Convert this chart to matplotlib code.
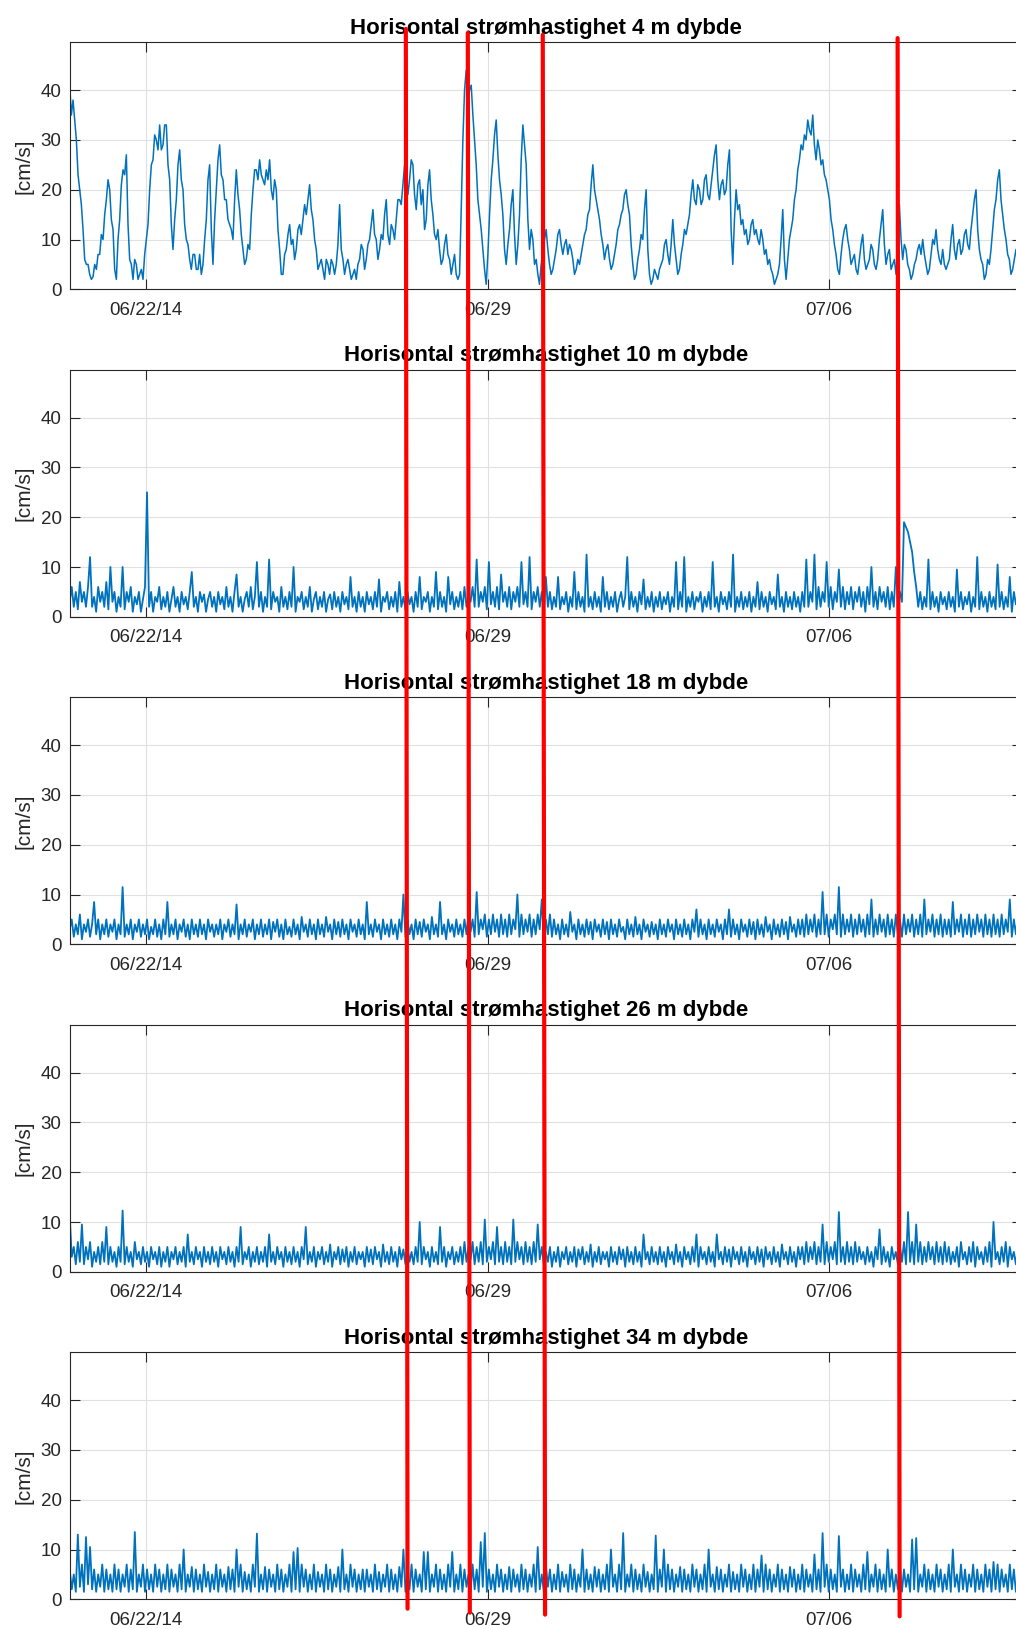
import matplotlib
matplotlib.use('Agg')
import matplotlib.pyplot as plt
import matplotlib.dates as mdates
import matplotlib.transforms as mtransforms
from matplotlib.patches import ConnectionPatch
from datetime import datetime, timedelta

plt.rcParams['font.family'] = ['Liberation Sans', 'DejaVu Sans']

# ---------------- data ----------------
depths = [4, 10, 18, 26, 34]
titles = ['Horisontal strømhastighet %d m dybde' % d for d in depths]
ylabel = '[cm/s]'

start_time = datetime(2014, 6, 20, 10, 40)
end_time = datetime(2014, 7, 9, 22, 40)
step_4m_hours = 0.81875
step_deep_hours = 1.0

tick_dates = [datetime(2014, 6, 22), datetime(2014, 6, 29), datetime(2014, 7, 6)]
tick_labels = ['06/22/14', '06/29', '07/06']
ytick_values = [0, 10, 20, 30, 40]
ymax = 49.6

speed_4m = [
    41, 35, 38, 34, 30, 23, 20, 17, 12, 6, 5, 5, 3, 2, 2.5, 5, 4, 7, 7, 11, 10, 15, 18, 22, 20, 14, 12, 4, 2, 10, 14, 21, 24, 23, 27, 13, 6, 5, 2, 6,
    5, 2, 3, 4, 2, 7, 10, 13, 20, 25, 26, 31, 30, 28, 33, 28, 29, 33, 33, 25, 22, 13, 8, 14, 18, 25, 28, 22, 20, 13, 10, 9, 6, 4, 7, 7, 4, 4, 7, 3,
    5, 10, 14, 22, 25, 12, 5, 14, 20, 26, 29, 23, 22, 18, 18, 14, 13, 12, 10, 18, 24, 19, 16, 11, 8, 5, 6, 9, 8, 15, 20, 24, 24, 22, 26, 23, 22, 21, 24, 22,
    26, 20, 18, 22, 20, 12, 8, 3, 3, 7, 8, 11, 13, 9, 10, 6, 8, 12, 13, 11, 14, 17, 15, 18, 21, 16, 14, 10, 8, 4, 5, 6, 4, 2, 6, 5, 3, 6, 5, 3,
    5, 9, 17, 8, 6, 3, 5, 6, 4, 2, 3, 4, 2, 5, 6, 9, 8, 4, 6, 9, 10, 13, 16, 11, 10, 6, 8, 11, 10, 15, 18, 11, 9, 13, 12, 10, 14, 18, 18, 17,
    21, 25, 24, 19, 22, 26, 25, 19, 16, 21, 22, 17, 20, 12, 14, 21, 24, 18, 15, 11, 10, 12, 8, 5, 6, 9, 11, 7, 6, 3, 5, 7, 3, 2, 3, 16, 30, 40, 44, 37,
    40, 41, 35, 30, 25, 18, 15, 12, 8, 4, 1, 7, 15, 22, 26, 31, 34, 27,
    22, 19, 15, 8, 5, 9, 12, 17, 20, 11, 5, 9, 15, 26, 33, 29, 25, 14, 8, 12, 10, 5, 6, 3, 1, 5, 8, 10, 12, 8, 5, 3, 4, 6, 8, 11, 12, 9, 7, 9,
    10, 7, 9, 8, 6, 3, 4, 6, 5, 7, 9, 11, 12, 15, 16, 21, 25, 20, 18, 16, 14, 11, 9, 6, 8, 9, 6, 4, 5, 7, 9, 12, 13, 15, 16, 19, 20, 17, 15, 9,
    5, 2, 3, 6, 8, 11, 10, 16, 20, 8, 3, 1, 2, 4, 3, 2, 4, 5, 6, 9, 10, 7, 5, 9, 14, 9, 6, 3, 4, 7, 9, 12, 11, 13, 15, 19, 22, 18, 17, 21,
    20, 17, 18, 22, 23, 19, 18, 21, 24, 27, 29, 22, 18, 21, 22, 19, 20, 25, 28, 12, 5, 14, 20, 16, 17, 13, 14, 11, 12, 9, 10, 13, 14, 11, 12, 10, 9, 12, 10, 7,
    8, 5, 6, 4, 3, 1, 2, 3, 5, 10, 16, 6, 2, 6, 10, 12, 14, 18, 20, 24, 26, 29, 28, 31, 30, 34, 32, 31, 35, 29, 26, 30, 28, 25, 26, 23, 22, 20, 18, 14,
    12, 9, 7, 4, 3, 7, 10, 12, 13, 10, 8, 5, 6, 7, 4, 3, 6, 9, 11, 6, 4, 5, 6, 9, 8, 5, 4, 6, 10, 13, 16, 9, 5, 7, 8, 4, 5, 6, 3, 8,
    17, 10, 6, 9, 8, 5, 4, 2, 3, 5, 6, 8, 9, 7, 10, 7, 5, 3, 4, 7, 10, 9, 12, 8, 6, 5, 8, 5, 4, 5, 6, 10, 13, 8, 6, 9, 10, 7, 8, 11,
    12, 9, 8, 12, 15, 18, 20, 12, 8, 6, 5, 2, 3, 6, 5, 8, 12, 16, 18, 22, 24, 18, 15, 12, 10, 7, 6, 3, 4, 6, 8, 5, 6,
]

speed_10m = [
    3, 6, 2, 5, 1.5, 7, 3, 5, 2, 6, 12, 2, 4, 1, 6, 3, 5, 2, 7, 1.5, 10, 3, 5, 1,
    4, 2, 10, 1.5, 5, 3, 6, 1, 4, 2.5, 5, 1, 3.5, 6, 25, 2, 5, 1, 4, 3, 6, 1.5, 4, 2,
    5, 1, 3.5, 6, 2, 4, 1, 5, 2.5, 4, 1.5, 5, 9, 2, 4, 1, 5, 3, 4.5, 1, 3.5, 5, 2, 4,
    1, 5, 2.5, 4, 1.5, 6, 2, 4, 1, 5, 8.5, 2, 4, 1, 3.5, 5, 2, 6, 1.5, 4, 11, 2, 5, 1,
    4, 2, 11.5, 1.5, 5, 3, 4, 1, 6, 2, 4, 1.5, 5, 2, 10, 1, 4, 3, 5, 1.5, 4, 2, 6, 1,
    3.5, 5, 1.5, 4, 2, 5, 1, 3.5, 4.5, 1.5, 5, 2, 4, 1, 5, 2.5, 4, 1.5, 8, 2, 4, 1, 5, 2,
    4, 1, 5, 2.5, 4, 1.5, 5, 2, 7.5, 1, 4, 3, 5, 1.5, 4, 2, 5, 1, 7, 2, 4, 1.5, 5, 2.5,
    4, 1, 5, 2, 8, 1.5, 4, 3, 5, 1, 4, 2, 9, 1.5, 5, 2, 4, 1, 8, 2.5, 5, 1.5, 4, 2,
    5, 1.5, 6, 2, 4, 3, 6, 2, 11.5, 2, 5, 3, 6, 1.5, 11, 2.5, 5, 2, 6, 1.5, 8.5, 3, 5, 2,
    6, 1.5, 5, 3, 6, 2, 11, 2.5, 5, 2, 12, 1.5, 5, 3, 6, 2, 5, 1, 8, 2, 5, 1.5, 4, 2,
    8, 1.5, 4, 2.5, 5, 1, 4, 2, 9, 1.5, 5, 2, 4, 1, 12.5, 2, 4, 1.5, 5, 2, 4, 1, 8, 2,
    5, 1.5, 4, 2, 5, 1, 3.5, 5, 2, 4, 12, 1.5, 5, 2, 4, 1, 5, 2.5, 7.5, 1.5, 4, 2, 5, 1,
    4, 2, 5, 1.5, 4, 2.5, 5, 1, 4, 2, 11, 1.5, 5, 2, 12, 1, 4, 2, 5, 1.5, 4, 3, 5, 1,
    4, 2, 5, 1.5, 11, 2, 4, 1, 5, 2.5, 4, 1.5, 5, 2, 12.5, 1, 4, 2, 5, 1.5, 4, 2, 5, 1,
    4, 2, 7, 1.5, 5, 2, 4, 1, 5, 2.5, 4, 1.5, 8.5, 2, 4, 1, 5, 2, 4, 1.5, 5, 2, 4, 1,
    5, 2, 11.5, 2, 5, 3, 12.5, 1.5, 6, 2, 5, 3, 11, 2, 6, 1.5, 5, 3, 9.5, 2, 6, 1.5, 5, 2.5,
    6, 1.5, 5, 3, 6, 2, 5, 1, 6, 2.5, 10, 2, 5, 1.5, 6, 3, 5, 2, 6, 1.5, 5, 2, 10, 3,
    5, 3, 19, 18, 17, 15, 13, 9, 6, 2, 5, 1.5, 4, 2, 11.5, 1.5, 5, 2, 4, 1, 5, 2.5, 4, 1.5,
    5, 2, 4, 1, 9.5, 2, 5, 1.5, 4, 2.5, 5, 1, 4, 2, 12, 1.5, 5, 2, 4, 1, 5, 2, 4, 1.5,
    10.5, 2, 5, 1.5, 4, 2, 8, 1, 5, 2.5, 4, 1.5, 5, 2, 4, 1, 5, 2, 4, 1.5, 5, 2, 4, 1,
]

speed_18m = [
    3, 5, 1.5, 4, 2, 6, 1, 4, 2.5, 5, 1.5, 4, 8.5, 2, 5, 1, 4, 2, 5, 1.5, 4, 2.5, 5, 1,
    4, 2, 11.5, 1.5, 4, 2, 5, 1, 4, 2.5, 5, 1.5, 4, 2, 5, 1, 3.5, 2, 5, 1.5, 4, 1, 5, 2,
    8.5, 1.5, 4, 2, 5, 1, 4, 2.5, 5, 1.5, 4, 1, 5, 2, 4, 1.5, 5, 2, 4, 1, 5, 2.5, 4, 1.5,
    4, 2, 5, 1, 4, 2.5, 5, 1.5, 4, 2, 8, 1, 4, 2, 5, 1.5, 4, 2.5, 5, 1, 4, 2, 5, 1.5,
    4, 2, 5, 1, 4.5, 2.5, 5, 1.5, 4, 1, 5, 2, 3.5, 1.5, 5, 2, 4, 1, 5.5, 2.5, 4, 1.5, 5, 2,
    4, 1, 5, 2, 4, 1.5, 5.5, 2.5, 4, 1, 5, 2, 4.5, 1.5, 5, 2, 4, 1, 5, 2.5, 4, 1.5, 5, 2,
    4, 1, 8.5, 2, 4, 1.5, 5, 2.5, 4, 1, 5, 2, 4, 1.5, 5, 2, 4, 1, 5, 2.5, 10, 1.5, 5, 2,
    4, 1, 5, 2, 4.5, 1.5, 5, 2.5, 4, 1, 5.5, 2, 4, 1.5, 8.5, 2, 4, 1, 5, 2.5, 4, 1.5, 5, 2,
    4, 1.5, 5, 2, 6, 2.5, 5, 1.5, 10.5, 2, 5, 3, 6, 1.5, 5, 2, 6, 2.5, 5, 1.5, 6, 2, 5, 1.5,
    6, 2, 5, 3, 10, 1.5, 6, 2, 5, 2.5, 6, 1.5, 5, 2, 6, 3, 9, 1.5, 5, 2, 6, 1.5, 5, 2,
    4, 1, 5, 2, 4, 1.5, 6.5, 2.5, 4, 1, 5, 2, 4, 1.5, 5, 2, 4.5, 1, 5, 2.5, 4, 1.5, 5, 2,
    4.5, 1, 5, 2, 4, 1.5, 5, 2.5, 3.5, 1, 5, 2, 4, 1.5, 5.5, 2, 4, 1, 5, 2.5, 4, 1.5, 4.5, 2,
    4, 1, 5, 2, 4, 1.5, 5, 2.5, 4, 1, 5, 2, 4, 1.5, 5, 2, 4, 1, 5, 2.5, 7, 1.5, 5, 2,
    4, 1, 5, 2, 4, 1.5, 5, 2.5, 4, 1, 5, 2, 7, 1.5, 5, 2, 4, 1, 5, 2.5, 4, 1.5, 5, 2,
    4.5, 1, 5, 2, 4, 1.5, 5.5, 2.5, 4, 1, 5, 2, 4, 1.5, 5, 2, 4.5, 1, 5.5, 2.5, 4, 1.5, 5, 2,
    5, 1.5, 6, 2, 5, 2.5, 6, 1.5, 5, 2, 10.5, 2, 6, 1.5, 5, 3, 6, 2, 11.5, 1.5, 6, 2, 5, 2.5,
    6, 1.5, 5, 2, 6, 2.5, 5, 1.5, 6, 2, 9, 1.5, 5, 2, 6, 2.5, 5, 1.5, 6, 2, 5, 1.5, 6, 2,
    5, 1.5, 6, 2, 5, 2.5, 6, 1.5, 5, 2, 6, 1.5, 9, 2, 5, 2.5, 6, 1.5, 5, 2, 6, 1.5, 5, 2,
    5, 1.5, 8.5, 2, 5, 2.5, 6, 1.5, 5, 2, 6, 1.5, 5, 2, 6, 2.5, 5, 1.5, 6, 2, 5, 1.5, 6, 2,
    5, 1.5, 6, 2, 5, 2.5, 9, 1.5, 5, 2, 6, 1.5, 5, 2, 6, 2.5, 5, 1.5, 6, 2, 5, 1.5, 6, 2,
]

speed_26m = [
    11.5, 3, 5, 1.5, 6, 2, 9.5, 1.5, 5, 2.5, 6, 1, 4, 2, 5, 1.5, 6, 2, 9, 1.5, 5, 2, 4, 1,
    5, 2, 12.3, 1.5, 5, 2, 4, 1, 6, 2.5, 4, 1.5, 5, 2, 4, 1, 5, 2.5, 4, 1.5, 5, 1, 4, 2,
    5, 1, 4, 2.5, 5, 1.5, 4, 2, 5, 1, 7.5, 2, 4, 1.5, 5, 2.5, 4, 1, 5, 2, 4, 1.5, 5, 2,
    4, 1, 5, 2.5, 4, 1.5, 5, 2, 4, 1, 5, 2, 9, 1.5, 4, 2.5, 5, 1, 4, 2, 5, 1.5, 4, 2,
    5, 1, 7.5, 2, 4, 1.5, 5, 2.5, 4, 1, 5, 2, 4, 1.5, 5, 2, 4, 1, 5, 2.5, 9, 1.5, 4, 2,
    5, 1, 4, 2.5, 5, 1.5, 4, 2, 5.5, 1, 4, 2.5, 5, 1.5, 4.5, 2, 5, 1, 4, 2, 5, 1.5, 4, 2.5,
    4, 1, 5, 2, 4.5, 1.5, 5, 2.5, 4, 1, 5.5, 2, 4, 1.5, 5, 2, 4, 1, 5, 2.5, 4.5, 1.5, 5, 2,
    4, 1.5, 5, 2, 10, 1.5, 5, 2.5, 4, 1, 5, 2, 4, 1.5, 9, 2, 5, 1, 4, 2.5, 5, 1.5, 4, 2,
    5, 1.5, 6, 2, 5, 2.5, 6, 1.5, 5, 2, 6, 1.5, 10.5, 2, 5, 2.5, 6, 1.5, 9, 2, 5, 1.5, 6, 2,
    5, 1.5, 10.5, 2, 6, 2.5, 5, 1.5, 6, 2, 5, 1.5, 6, 2, 9.5, 2.5, 5, 1.5, 4, 2, 5, 1, 4, 2,
    5, 1, 4, 2.5, 5, 1.5, 4, 2, 5, 1, 4.5, 2.5, 5, 1.5, 4, 2, 5.5, 1, 4, 2, 5, 1.5, 4, 2.5,
    4, 1, 5, 2, 4, 1.5, 5, 2.5, 4.5, 1, 5, 2, 4, 1.5, 5, 2, 4, 1, 7.5, 2.5, 4, 1.5, 5, 2,
    4, 1.5, 5, 2, 4, 1, 5, 2.5, 4, 1.5, 5.5, 2, 4, 1, 5, 2.5, 4, 1.5, 5, 2, 7.5, 1, 5, 2.5,
    4, 1.5, 5, 2, 4, 1, 7.5, 2.5, 4, 1.5, 5, 2, 4.5, 1, 5, 2.5, 4, 1.5, 5, 2, 4, 1, 5, 2.5,
    4, 1.5, 5, 2, 4.5, 1, 5, 2.5, 4, 1.5, 5, 2, 4, 1, 5.5, 2.5, 4, 1.5, 5, 2, 4, 1, 5, 2.5,
    5, 1.5, 6, 2, 5, 2.5, 6, 1.5, 5, 2, 9.5, 1.5, 6, 2, 5, 2.5, 6, 1.5, 12, 2, 5, 1.5, 6, 2,
    5, 1.5, 6, 2, 5, 2.5, 4, 1.5, 5, 2, 4, 1, 5, 2.5, 8.5, 1.5, 5, 2, 4, 1, 5, 2.5, 4, 1.5,
    5, 2, 6, 1.5, 12, 2, 6, 1.5, 9.5, 2, 6, 1.5, 5, 2, 6, 2.5, 5, 1.5, 6, 2, 5, 1.5, 6, 2,
    5, 1.5, 4, 2, 5, 1, 6, 2.5, 4, 1.5, 5, 2, 6, 1, 5, 2.5, 4, 1.5, 5, 2, 6, 1, 10, 2.5,
    4, 1.5, 5, 2, 6, 1, 5, 2.5, 4, 1.5, 5, 2, 6, 1, 5, 2.5, 4, 1.5, 5, 2, 6, 1, 5, 2.5,
]

speed_34m = [
    6, 2, 5, 1.5, 13, 2.5, 7, 1.5, 12.5, 3, 10.5, 2, 6, 1.5, 5, 2.5, 7, 1.5, 6, 2, 5, 1.5, 7, 2,
    6, 1.5, 5, 2.5, 7, 1.5, 6, 2, 13.5, 1.5, 5, 2.5, 7, 1.5, 6, 2, 5, 1.5, 7, 2.5, 6, 1.5, 5, 2,
    7, 1.5, 6, 2.5, 5, 1.5, 7, 2, 10, 1.5, 5, 2.5, 6.5, 1.5, 6, 2, 5, 1.5, 7, 2.5, 5.5, 1.5, 5, 2,
    7, 1.5, 6, 2.5, 5, 1.5, 6.5, 2, 6, 1.5, 10, 2.5, 7, 1.5, 5.5, 2, 5, 1.5, 7, 2.5, 13.2, 1.5, 5, 2,
    6.5, 1.5, 6, 2.5, 5, 1.5, 7, 2, 6, 1.5, 5, 2.5, 7, 1.5, 9.5, 2, 10.3, 1.5, 7, 2.5, 6, 1.5, 5, 2,
    7, 1.5, 5.5, 2.5, 5, 1.5, 7, 2, 6, 1.5, 5, 2.5, 6.5, 1.5, 10, 2, 5, 1.5, 7, 2.5, 6, 1.5, 5, 2,
    6, 1.5, 6, 2.5, 5, 1.5, 7, 2, 5.5, 1.5, 5, 2.5, 7, 1.5, 6, 2, 5, 1.5, 6.5, 2.5, 10, 1.5, 5, 2,
    7, 1.5, 6, 2.5, 5, 1.5, 9.5, 2, 9.5, 1.5, 5, 2.5, 7, 1.5, 6, 2, 5, 1.5, 7, 2.5, 9.5, 1.5, 5, 2,
    7, 1.5, 6, 2.5, 5, 1.5, 7, 2, 6, 1.5, 11.5, 2.5, 13.3, 1.5, 6, 2, 5, 1.5, 7, 2.5, 6, 1.5, 5, 2,
    6.5, 1.5, 6, 2.5, 5, 1.5, 7, 2, 6, 1.5, 5, 2.5, 7, 1.5, 10.5, 2, 5, 1.5, 7, 2.5, 6, 1.5, 5, 2,
    7, 1.5, 5.5, 2.5, 5, 1.5, 7, 2, 6, 1.5, 5, 2.5, 10, 1.5, 6, 2, 5, 1.5, 6.5, 2.5, 6, 1.5, 5, 2,
    7, 1.5, 10, 2.5, 5, 1.5, 7, 2, 13.3, 1.5, 5, 2.5, 7, 1.5, 6, 2, 5, 1.5, 7, 2.5, 5.5, 1.5, 5, 2,
    12.8, 1.5, 6, 2.5, 10, 1.5, 7, 2, 6, 1.5, 5, 2.5, 6.5, 1.5, 6, 2, 5, 1.5, 7, 2.5, 6, 1.5, 5, 2,
    7, 1.5, 10, 2.5, 5, 1.5, 6.5, 2, 6, 1.5, 5, 2.5, 7, 1.5, 5.5, 2, 5, 1.5, 7, 2.5, 6, 1.5, 5, 2,
    7, 1.5, 6, 2.5, 8.8, 1.5, 7, 2, 6, 1.5, 5, 2.5, 7, 1.5, 6, 2, 5, 1.5, 6.5, 2.5, 6, 1.5, 5, 2,
    7, 1.5, 6, 2.5, 5, 1.5, 9, 2, 6, 1.5, 13.3, 2.5, 7, 1.5, 6, 2, 5, 1.5, 12.7, 2.5, 6, 1.5, 5, 2,
    7, 1.5, 6, 2.5, 5, 1.5, 7, 2, 9.5, 1.5, 5, 2.5, 7, 1.5, 6, 2, 5, 1.5, 10, 2.5, 6, 1.5, 5, 2,
    7, 1.5, 6, 2.5, 5, 1.5, 12, 2, 12.3, 1.5, 5, 2.5, 7, 1.5, 6, 2, 5, 1.5, 7, 2.5, 6, 1.5, 5, 2,
    7, 1.5, 10, 2.5, 5, 1.5, 7, 2, 6, 1.5, 5, 2.5, 7, 1.5, 6, 2, 5, 1.5, 7, 2.5, 6, 1.5, 7.5, 2,
    7, 1.5, 6, 2.5, 5, 1.5, 7, 2, 6, 1.5, 5, 2.5, 7, 1.5, 6, 2, 5, 1.5, 7, 2.5, 6, 1.5, 5, 2,
]

series = [speed_4m, speed_10m, speed_18m, speed_26m, speed_34m]
steps = [step_4m_hours, step_deep_hours, step_deep_hours, step_deep_hours, step_deep_hours]

# hand-drawn red marker lines: (date at top, date at bottom) in days after start
marker_top_days = [6.883, 8.152, 9.687, 16.953]
marker_bottom_days = [6.918, 8.193, 9.734, 16.994]
marker_top_y = [1.054, 1.038, 1.030, 1.017]         # axes fraction, first panel
marker_bottom_y = [-0.038, -0.054, -0.062, -0.069]  # axes fraction, last panel

# ---------------- figure ----------------
W, H = 1016, 1629
fig = plt.figure(figsize=(W / 100, H / 100), dpi=100)

left_px, right_px = 69.7, 1022.0
top0_px, ax_h_px, spacing_px = 42.3, 247.0, 327.5

line_color = '#0072BD'
text_color = '#262626'
line_widths = [1.1, 1.3, 1.3, 1.3, 1.3]

axes = []
for i, (vals, step, title) in enumerate(zip(series, steps, titles)):
    top_px = top0_px + i * spacing_px
    ax = fig.add_axes([left_px / W, 1 - (top_px + ax_h_px) / H,
                       (right_px - left_px) / W, ax_h_px / H])
    t = [start_time + timedelta(hours=step * k) for k in range(len(vals))]
    ax.plot(t, vals, color=line_color, lw=line_widths[i])
    ax.set_xlim(start_time, end_time)
    ax.set_ylim(0, ymax)
    ax.set_yticks(ytick_values)
    ax.set_xticks(tick_dates)
    ax.set_xticklabels(tick_labels)
    ax.grid(True, color='#e0e0e0', lw=0.8)
    ax.set_axisbelow(True)
    ax.tick_params(direction='in', length=7.2, width=0.8, top=True, right=True,
                   colors=text_color, labelsize=13.5)
    ax.tick_params(axis='x', pad=9.0)
    ax.tick_params(axis='y', pad=5.8)
    for sp in ax.spines.values():
        sp.set_color(text_color)
        sp.set_linewidth(0.8)
    ax.set_title(title, fontsize=16, fontweight='bold', pad=6.0, color='black')
    ax.set_ylabel(ylabel, fontsize=15, color=text_color)
    ax.yaxis.set_label_coords(-0.0385, 0.5)
    axes.append(ax)

t0 = mdates.date2num(start_time)
ax_top, ax_bot = axes[0], axes[-1]
trans_top = mtransforms.blended_transform_factory(ax_top.transData, ax_top.transAxes)
trans_bot = mtransforms.blended_transform_factory(ax_bot.transData, ax_bot.transAxes)
for dt, db, yt, yb in zip(marker_top_days, marker_bottom_days, marker_top_y, marker_bottom_y):
    cp = ConnectionPatch(xyA=(t0 + dt, yt), coordsA=trans_top,
                         xyB=(t0 + db, yb), coordsB=trans_bot,
                         color='#ff0000', lw=3.0, zorder=10)
    fig.add_artist(cp)

fig.savefig('out.png', dpi=100)
